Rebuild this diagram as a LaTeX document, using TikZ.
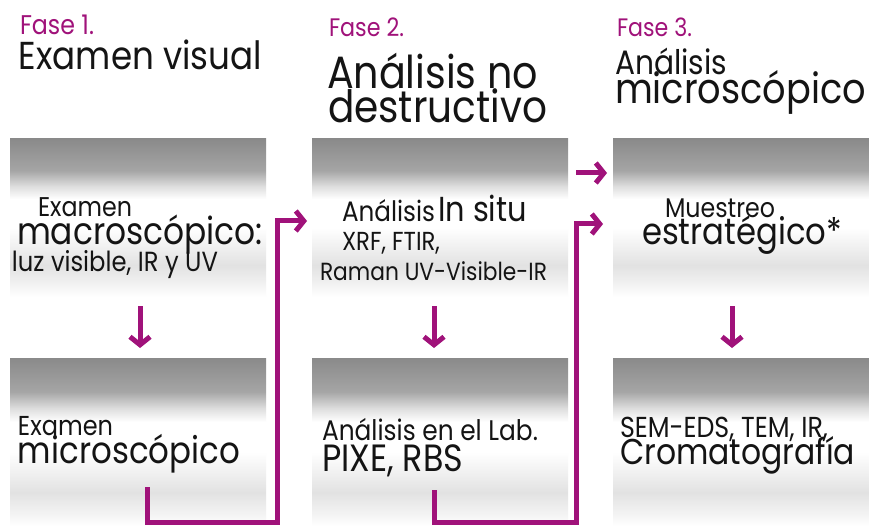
\documentclass[tikz,border=0pt]{standalone}
\usepackage{fontspec}
\usepackage{graphicx}
\setmainfont{Poppins}
\usetikzlibrary{arrows.meta,calc}
\definecolor{fasecol}{RGB}{160,18,122}
\definecolor{gA}{RGB}{138,138,138}
\definecolor{gB}{RGB}{165,165,165}
\definecolor{gC}{RGB}{222,222,222}
\definecolor{gD}{RGB}{226,226,226}
\definecolor{gE}{RGB}{242,242,242}
\pgfdeclareverticalshading{boxshade}{100bp}{color(0bp)=(white); color(25bp)=(white); color(29bp)=(gE); color(35bp)=(gD); color(47bp)=(white); color(56bp)=(white); color(60bp)=(gC); color(65bp)=(gB); color(75bp)=(gA); color(100bp)=(gA)}
\newsavebox\fitbox
\def\fitk{1.14}
\newcommand\fitto[2]{\sbox\fitbox{\fontsize{10}{12}\selectfont #2}\pgfmathsetmacro\fitsz{\fitk*10*#1/\wd\fitbox}\pgfmathsetmacro\fitsx{1/\fitk}\scalebox{\fitsx}[1]{\fontsize{\fitsz}{\fitsz}\selectfont #2}}
\tikzset{
  box/.style={shading=boxshade, anchor=north west, minimum width=256pt, inner sep=0pt, outer sep=0pt},
  topbox/.style={box, minimum height=158pt},
  lowbox/.style={box, minimum height=168pt},
  txt/.style={anchor=base west, inner sep=0pt, outer sep=0pt, text=black!92},
  fase/.style={txt, text=fasecol},
  conn/.style={draw=fasecol, line width=5pt, -{Straight Barb[length=8pt,width=20pt]}}
}
\begin{document}
\begin{tikzpicture}[x=1pt,y=-1pt]
\useasboundingbox[fill=white] (0,0) rectangle (869,526);
% boxes
\node[topbox] (t1) at (10,139) {};
\node[topbox] (t2) at (312,139) {};
\node[topbox] (t3) at (613,139) {};
\node[lowbox] (m1) at (10,358) {};
\node[lowbox] (m2) at (312,358) {};
\node[lowbox] (m3) at (613,358) {};
% headers
\node[fase] (f1) at (20,35) {\fitto{74}{Fase 1.}};
\node[txt] (h1) at (19,70) {\fitto{243}{Examen visual}};
\node[fase] (f2) at (329,37) {\fitto{75}{Fase 2.}};
\node[txt] (h2a) at (327,89) {\fitto{211}{Análisis no}};
\node[txt] (h2b) at (328,123) {\fitto{219}{destructivo}};
\node[fase] (f3) at (617,37) {\fitto{75}{Fase 3.}};
\node[txt] (h3a) at (615,75) {\fitto{112}{Análisis}};
\node[txt] (h3b) at (615,104) {\fitto{251}{microscópico}};
% box texts
\node[txt] (x1a) at (38,217) {\fitto{94}{Examen}};
\node[txt] (x1b) at (17,245) {\fitto{246}{macroscópico:}};
\node[txt] (x1c) at (12,272) {\fitto{206}{luz visible, IR y UV}};
\node[txt] (x2a) at (342,222) {\fitto{93}{Análisis}};
\node[txt] (x2b) at (438,222) {\fitto{89}{In situ}};
\node[txt] (x2c) at (342,251) {\fitto{98}{XRF, FTIR,}};
\node[txt] (x2d) at (320,280) {\fitto{227}{Raman UV-Visible-IR}};
\node[txt] (x3a) at (665,218) {\fitto{110}{Muestreo}};
\node[txt] (x3b) at (642,245) {\fitto{200}{estratégico*}};
\node[txt] (y1a) at (18,435) {\fitto{95}{Examen}};
\node[txt] (y1b) at (18,463) {\fitto{222}{microscópico}};
\node[txt] (y2a) at (322,440) {\fitto{216}{Análisis en el Lab.}};
\node[txt] (y2b) at (322,471) {\fitto{141}{PIXE, RBS}};
\node[txt] (y3a) at (620,437) {\fitto{208}{SEM-EDS, TEM, IR,}};
\node[txt] (y3b) at (620,464) {\fitto{235}{Cromatografía}};
% connectors
\draw[conn, shorten <=9pt, shorten >=10pt] ([xshift=2pt]t1.south) -- ([xshift=2pt]m1.north);
\draw[conn, shorten <=9pt, shorten >=10pt] ([xshift=-6pt]t2.south) -- ([xshift=-6pt]m2.north);
\draw[conn, shorten <=9pt, shorten >=10pt] ([xshift=-9pt]t3.south) -- ([xshift=-9pt]m3.north);
\draw[conn, shorten <=8pt, shorten >=6pt] ($(t2.north east)+(0,34)$) -- ($(t3.north west)+(0,34)$);
\coordinate (s1) at (147,487);
\coordinate (s2) at (434,490);
\draw[conn, shorten >=5pt] (s1) |- (277,522) |- ($(t2.west)+(0,3)$);
\draw[conn, shorten >=10pt] (s2) |- (576,522) |- ($(t3.west)+(0,6)$);
\end{tikzpicture}
\end{document}
